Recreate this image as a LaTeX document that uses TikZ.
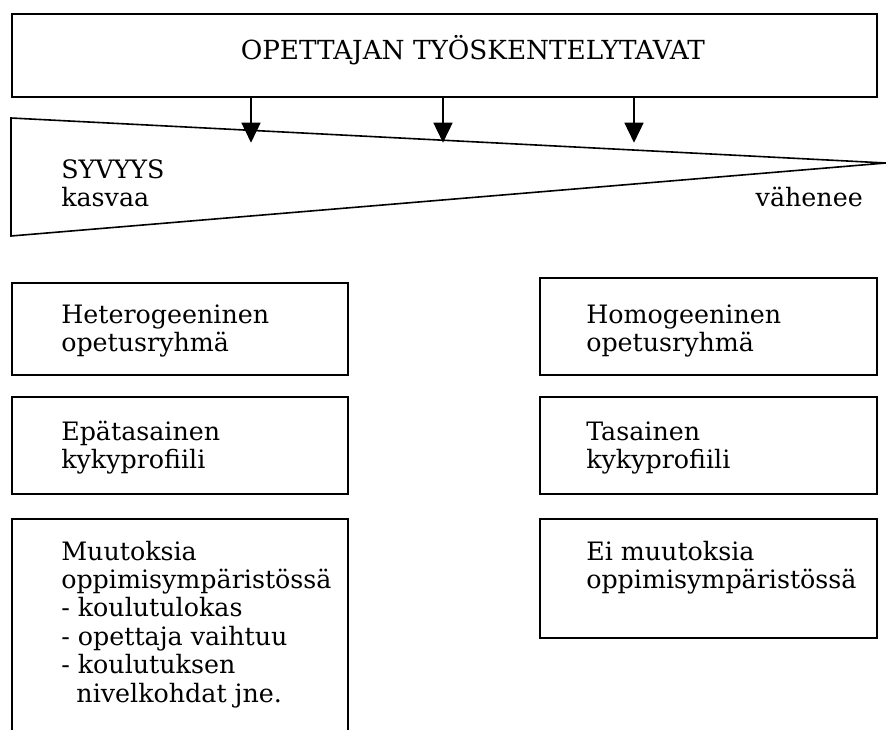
\documentclass[tikz,border=0pt]{standalone}
\usepackage{fontspec}
\setmainfont{DejaVu Serif}
\usetikzlibrary{arrows.meta}
\newcommand{\lns}[1]{\begin{tabular}[t]{@{}l@{}}#1\end{tabular}}
\tikzset{
  boxstyle/.style={draw, line width=1.35pt, anchor=north west, inner sep=0pt},
  txt/.style={anchor=base west, inner sep=0pt, font=\fontsize{19pt}{21.3pt}\selectfont},
  arr/.style={line width=1.2pt, -{Triangle[width=14.25pt,length=15pt]}},
  wedge/.style={line width=1.2pt, line join=miter}
}
\begin{document}
\begin{tikzpicture}[x=0.75pt, y=-0.75pt]
\clip (0,0) rectangle (886,729);
\fill[white] (0,0) rectangle (886,729);

% top box
\node[boxstyle, minimum width=648.75pt, minimum height=62.25pt] (top) at (11,13) {};
\node[txt, font=\fontsize{19.7pt}{22pt}\selectfont] (title) at (240.5,59.3) {OPETTAJAN TYÖSKENTELYTAVAT};

% wedge
\coordinate (wtl) at (11,118);
\coordinate (wtip) at (886,163);
\coordinate (wbl) at (11,236);
\draw[wedge] (wtl) -- (wtip) -- (wbl) -- cycle;

% arrows
\coordinate (a1) at (251,142.7);
\coordinate (a2) at (443,142.7);
\coordinate (a3) at (634,142.7);
\draw[arr] (top.south -| a1) -- (a1);
\draw[arr] (top.south -| a2) -- (a2);
\draw[arr] (top.south -| a3) -- (a3);

\node[txt] (syv) at (61,178.3) {\lns{SYVYYS\\kasvaa}};
\node[txt, anchor=base east] (vah) at (863,206.7) {vähenee};

% left column
\node[boxstyle, minimum width=252pt, minimum height=69pt] (l1) at (11,282) {};
\node[boxstyle, minimum width=252pt, minimum height=72.75pt] (l2) at (11,396) {};
\node[boxstyle, minimum width=252pt, minimum height=172.5pt] (l3) at (11,518) {};

% right column
\node[boxstyle, minimum width=252.75pt, minimum height=72.75pt] (r1) at (539,277) {};
\node[boxstyle, minimum width=252.75pt, minimum height=72.75pt] (r2) at (539,396) {};
\node[boxstyle, minimum width=252.75pt, minimum height=89.25pt] (r3) at (539,518) {};

% texts
\node[txt] (t1) at (61,323.3) {\lns{Heterogeeninen\\opetusryhmä}};
\node[txt] (t2) at (61,440.5) {\lns{Epätasainen\\kykyprofiili}};
\node[txt] (t3) at (61,560) {\lns{Muutoksia\\oppimisympäristössä\\- koulutulokas\\- opettaja vaihtuu\\- koulutuksen\\\hspace*{0.6em}nivelkohdat jne.}};
\node[txt] (u1) at (586,323.3) {\lns{Homogeeninen\\opetusryhmä}};
\node[txt] (u2) at (586,440.5) {\lns{Tasainen\\kykyprofiili}};
\node[txt] (u3) at (586,560) {\lns{Ei muutoksia\\oppimisympäristössä}};
\end{tikzpicture}
\end{document}
